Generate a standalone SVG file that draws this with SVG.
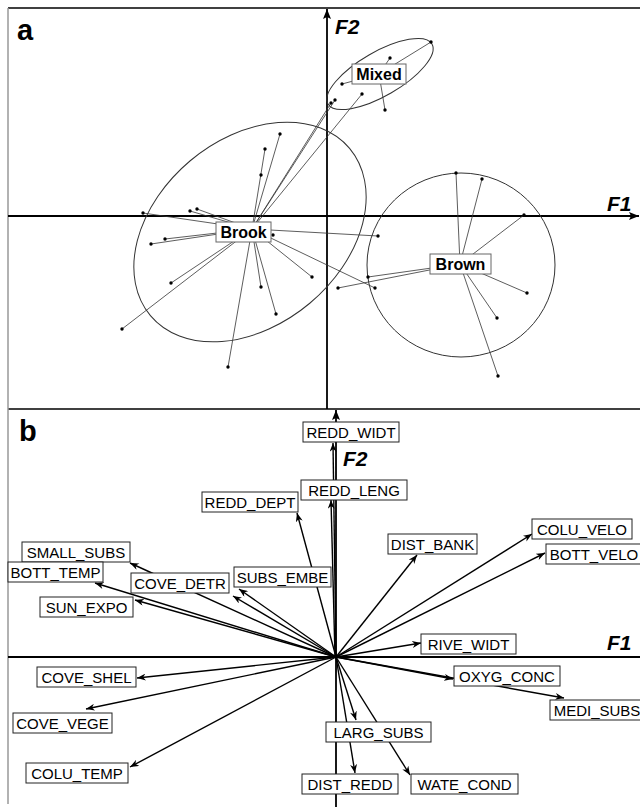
<svg xmlns="http://www.w3.org/2000/svg" width="640" height="807" viewBox="0 0 640 807">
<style>
.frame{stroke:#000;stroke-width:1.3;fill:none}
.lframe{stroke:#999;stroke-width:1.5;fill:none}
.axis{stroke:#000;stroke-width:1.8;fill:none}
.star{stroke:#333;stroke-width:0.8;fill:none}
.ell{stroke:#333;stroke-width:1;fill:none}
.pt{fill:#000}
.gbox{fill:#fff;stroke:#666;stroke-width:1}
.gtxt{font-family:"Liberation Sans",Arial,sans-serif;font-weight:bold;font-size:16px;text-anchor:middle;fill:#000}
.vec{stroke:#000;stroke-width:1.4;fill:none}
.vbox{fill:#fff;stroke:#222;stroke-width:1}
.vtxt{font-family:"Liberation Sans",Arial,sans-serif;font-size:15px;text-anchor:middle;fill:#000}
.ptl{font-family:"Liberation Sans",Arial,sans-serif;font-weight:bold;font-size:29px;fill:#000}
.axl{font-family:"Liberation Sans",Arial,sans-serif;font-weight:bold;font-style:italic;font-size:21px;fill:#000}
</style>
<defs>
<marker id="ah" viewBox="0 0 10 8" markerWidth="9" markerHeight="7" refX="10" refY="4" orient="auto" markerUnits="userSpaceOnUse">
<path d="M0,0 L10,4 L0,8 L3,4 z" fill="#000"/>
</marker>
<marker id="ax" viewBox="0 0 10 8" markerWidth="10" markerHeight="8" refX="10" refY="4" orient="auto" markerUnits="userSpaceOnUse">
<path d="M0,0 L10,4 L0,8 L2,4 z" fill="#000"/>
</marker>
</defs>
<rect width="640" height="807" fill="#fff"/>

<!-- frame -->
<g id="frame">
<line class="frame" x1="8" y1="8" x2="640" y2="8"/>
<line class="frame" x1="8" y1="409" x2="640" y2="409"/>
<line class="lframe" x1="8" y1="8" x2="8" y2="804"/>
<text class="ptl" x="17" y="40">a</text>
<text class="ptl" x="19" y="441">b</text>
</g>

<!-- panel a axes -->
<g id="axes-a">
<line class="axis" x1="327" y1="409" x2="327" y2="9" marker-end="url(#ax)"/>
<line class="axis" x1="8" y1="216" x2="639" y2="216" marker-end="url(#ax)"/>
<text class="axl" x="335" y="34">F2</text>
<text class="axl" x="607" y="211">F1</text>
</g>

<!-- panel a connectors -->
<g id="connectors-a">
<path class="star" d="M252 229L280 134M252 229L265 149M252 229L143 213M252 229L190 211M252 229L197 209M252 229L165 239M252 229L151 244M252 229L378 236M252 229L312 277M252 229L171 283M252 229L122 329M252 229L228 367M252 229L261 287M252 229L276 314M252 229L375 288M252 229L331 103M252 229L335 100M252 229L362 94"/>
<path class="star" d="M460 264L456 173M460 264L482 179M460 264L524 215M460 264L527 293M460 264L497 318M460 264L498 376M460 264L368 277M460 264L338 288"/>
<path class="star" d="M379 74L431 42M379 74L390 58M379 74L342 84M379 74L385 110"/>
</g>

<g id="Brook">
<ellipse class="ell" cx="250" cy="232" rx="130" ry="93" transform="rotate(-40 250 232)"/>
<g class="pt">
<circle cx="280" cy="134" r="1.7"/><circle cx="265" cy="149" r="1.7"/><circle cx="261" cy="175" r="1.7"/>
<circle cx="143" cy="213" r="1.7"/><circle cx="190" cy="211" r="1.7"/><circle cx="197" cy="209" r="1.7"/>
<circle cx="165" cy="239" r="1.7"/><circle cx="151" cy="244" r="1.7"/><circle cx="273" cy="235" r="1.7"/>
<circle cx="378" cy="236" r="1.7"/><circle cx="312" cy="277" r="1.7"/><circle cx="171" cy="283" r="1.7"/>
<circle cx="122" cy="329" r="1.7"/><circle cx="228" cy="367" r="1.7"/><circle cx="261" cy="287" r="1.7"/>
<circle cx="276" cy="314" r="1.7"/><circle cx="375" cy="288" r="1.7"/><circle cx="331" cy="103" r="1.7"/>
<circle cx="335" cy="100" r="1.7"/><circle cx="362" cy="94" r="1.7"/>
</g>
<rect class="gbox" x="216" y="222" width="55" height="20"/>
<text class="gtxt" x="243.5" y="238">Brook</text>
</g>

<g id="Brown">
<ellipse class="ell" cx="461" cy="265" rx="94" ry="92"/>
<g class="pt">
<circle cx="456" cy="173" r="1.7"/><circle cx="482" cy="179" r="1.7"/><circle cx="524" cy="215" r="1.7"/>
<circle cx="527" cy="293" r="1.7"/><circle cx="497" cy="318" r="1.7"/><circle cx="498" cy="376" r="1.7"/>
<circle cx="368" cy="277" r="1.7"/><circle cx="338" cy="288" r="1.7"/>
</g>
<rect class="gbox" x="430" y="254" width="61" height="20"/>
<text class="gtxt" x="460.5" y="270">Brown</text>
</g>

<g id="Mixed">
<ellipse class="ell" cx="380" cy="74" rx="60" ry="22" transform="rotate(-30 380 74)"/>
<g class="pt">
<circle cx="431" cy="42" r="1.7"/><circle cx="390" cy="58" r="1.7"/><circle cx="342" cy="84" r="1.7"/><circle cx="385" cy="110" r="1.7"/>
</g>
<rect class="gbox" x="352" y="64" width="54" height="20"/>
<text class="gtxt" x="379" y="80">Mixed</text>
</g>

<!-- panel b axes -->
<g id="axes-b">
<line class="axis" x1="336" y1="807" x2="336" y2="410" marker-end="url(#ax)"/>
<line class="axis" x1="8" y1="657" x2="640" y2="657"/>
<text class="axl" x="343" y="466">F2</text>
<text class="axl" x="607" y="650">F1</text>
</g>

<!-- panel b connectors -->
<g id="connectors-b" marker-end="url(#ah)">
<line class="vec" x1="336" y1="657" x2="333" y2="443" marker-end="url(#ah)"/>
<line class="vec" x1="335" y1="657" x2="331" y2="500" marker-end="url(#ah)"/>
<line class="vec" x1="336" y1="657" x2="297" y2="513" marker-end="url(#ah)"/>
<line class="vec" x1="336" y1="657" x2="417" y2="555" marker-end="url(#ah)"/>
<line class="vec" x1="336" y1="657" x2="532" y2="534" marker-end="url(#ah)"/>
<line class="vec" x1="336" y1="657" x2="545" y2="553" marker-end="url(#ah)"/>
<line class="vec" x1="336" y1="657" x2="130" y2="563" marker-end="url(#ah)"/>
<line class="vec" x1="336" y1="657" x2="95" y2="583" marker-end="url(#ah)"/>
<line class="vec" x1="336" y1="657" x2="233" y2="596" marker-end="url(#ah)"/>
<line class="vec" x1="336" y1="657" x2="239" y2="589" marker-end="url(#ah)"/>
<line class="vec" x1="336" y1="657" x2="135" y2="600" marker-end="url(#ah)"/>
<line class="vec" x1="336" y1="657" x2="137" y2="678" marker-end="url(#ah)"/>
<line class="vec" x1="336" y1="657" x2="86" y2="709" marker-end="url(#ah)"/>
<line class="vec" x1="336" y1="657" x2="130" y2="767" marker-end="url(#ah)"/>
<line class="vec" x1="336" y1="657" x2="421" y2="643" marker-end="url(#ah)"/>
<line class="vec" x1="336" y1="657" x2="453" y2="679" marker-end="url(#ah)"/>
<line class="vec" x1="336" y1="657" x2="564" y2="698" marker-end="url(#ah)"/>
<line class="vec" x1="336" y1="657" x2="356" y2="720" marker-end="url(#ah)"/>
<line class="vec" x1="336" y1="657" x2="355" y2="773" marker-end="url(#ah)"/>
<line class="vec" x1="336" y1="657" x2="410" y2="775" marker-end="url(#ah)"/>
</g>

<g id="REDD_WIDT"><rect class="vbox" x="303" y="422" width="96" height="20"/><text class="vtxt" x="351" y="437.5">REDD_WIDT</text></g>
<g id="REDD_LENG"><rect class="vbox" x="301" y="480" width="106" height="20"/><text class="vtxt" x="354" y="495.5">REDD_LENG</text></g>
<g id="REDD_DEPT"><rect class="vbox" x="202" y="492" width="96" height="20"/><text class="vtxt" x="250" y="507.5">REDD_DEPT</text></g>
<g id="DIST_BANK"><rect class="vbox" x="388" y="534" width="89" height="20"/><text class="vtxt" x="432.5" y="549.5">DIST_BANK</text></g>
<g id="COLU_VELO"><rect class="vbox" x="532" y="519" width="100" height="20"/><text class="vtxt" x="582" y="534.5">COLU_VELO</text></g>
<g id="BOTT_VELO"><rect class="vbox" x="546" y="544" width="96" height="20"/><text class="vtxt" x="594" y="559.5">BOTT_VELO</text></g>
<g id="SMALL_SUBS"><rect class="vbox" x="22" y="542" width="108" height="20"/><text class="vtxt" x="76" y="557.5">SMALL_SUBS</text></g>
<g id="BOTT_TEMP"><rect class="vbox" x="8" y="562" width="95" height="20"/><text class="vtxt" x="55.5" y="577.5">BOTT_TEMP</text></g>
<g id="COVE_DETR"><rect class="vbox" x="131" y="573" width="98" height="20"/><text class="vtxt" x="180" y="588.5">COVE_DETR</text></g>
<g id="SUBS_EMBE"><rect class="vbox" x="234" y="567" width="97" height="20"/><text class="vtxt" x="282.5" y="582.5">SUBS_EMBE</text></g>
<g id="SUN_EXPO"><rect class="vbox" x="40" y="597" width="93" height="20"/><text class="vtxt" x="86.5" y="612.5">SUN_EXPO</text></g>
<g id="COVE_SHEL"><rect class="vbox" x="37" y="667" width="99" height="20"/><text class="vtxt" x="86.5" y="682.5">COVE_SHEL</text></g>
<g id="COVE_VEGE"><rect class="vbox" x="13" y="713" width="99" height="20"/><text class="vtxt" x="62.5" y="728.5">COVE_VEGE</text></g>
<g id="COLU_TEMP"><rect class="vbox" x="26" y="763" width="102" height="20"/><text class="vtxt" x="77" y="778.5">COLU_TEMP</text></g>
<g id="RIVE_WIDT"><rect class="vbox" x="421" y="634" width="95" height="20"/><text class="vtxt" x="468.5" y="649.5">RIVE_WIDT</text></g>
<g id="OXYG_CONC"><rect class="vbox" x="454" y="666" width="106" height="20"/><text class="vtxt" x="507" y="681.5">OXYG_CONC</text></g>
<g id="MEDI_SUBS"><rect class="vbox" x="550" y="700" width="94" height="20"/><text class="vtxt" x="597" y="715.5">MEDI_SUBS</text></g>
<g id="LARG_SUBS"><rect class="vbox" x="326" y="722" width="105" height="20"/><text class="vtxt" x="378.5" y="737.5">LARG_SUBS</text></g>
<g id="DIST_REDD"><rect class="vbox" x="302" y="774" width="96" height="20"/><text class="vtxt" x="350" y="789.5">DIST_REDD</text></g>
<g id="WATE_COND"><rect class="vbox" x="411" y="774" width="107" height="20"/><text class="vtxt" x="464.5" y="789.5">WATE_COND</text></g>
</svg>
